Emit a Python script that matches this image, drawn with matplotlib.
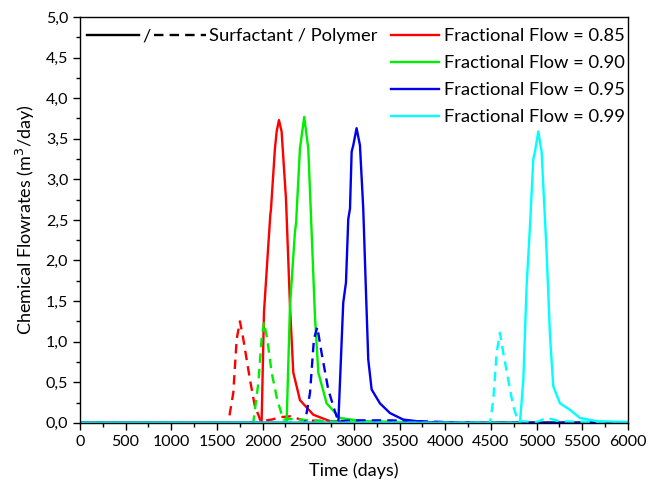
import numpy as np
import matplotlib.pyplot as plt
from matplotlib.ticker import MultipleLocator, FuncFormatter
from matplotlib.lines import Line2D

plt.rcParams['font.family'] = ['Lato', 'DejaVu Sans']

# --- Surfactant (solid) curves ---
t_085 = [0, 1989, 2015, 2062, 2085, 2091, 2135, 2154, 2179, 2208, 2256, 2300, 2336, 2409, 2555, 2738, 3000, 4000, 6000]
s_085 = [0, 0, 1.36, 2.18, 2.57, 2.62, 3.38, 3.59, 3.73, 3.59, 2.76, 1.44, 0.62, 0.28, 0.10, 0.02, 0.01, 0.0, 0]

t_090 = [0, 2263, 2300, 2354, 2368, 2373, 2409, 2456, 2500, 2537, 2573, 2610, 2701, 2847, 3102, 4000, 6000]
s_090 = [0, 0, 1.44, 2.35, 2.48, 2.60, 3.38, 3.77, 3.38, 2.35, 1.32, 0.62, 0.24, 0.06, 0.02, 0.0, 0]

t_095 = [0, 2829, 2865, 2883, 2913, 2938, 2957, 2975, 2993, 3029, 3066, 3102, 3132, 3157, 3194, 3285, 3395, 3540, 3759, 4200, 6000]
s_095 = [0, 0, 0.99, 1.48, 1.73, 2.51, 2.64, 3.34, 3.42, 3.63, 3.42, 2.64, 1.61, 0.78, 0.41, 0.24, 0.12, 0.04, 0.01, 0.0, 0]

t_099 = [0, 4818, 4855, 4891, 4928, 4964, 4982, 5019, 5055, 5110, 5147, 5183, 5256, 5366, 5475, 5658, 6000]
s_099 = [0, 0, 0.53, 1.69, 2.43, 3.25, 3.34, 3.59, 3.34, 2.10, 1.07, 0.45, 0.24, 0.16, 0.06, 0.02, 0.01]

# --- Polymer (dashed) curves ---
tp_085 = [0, 1624, 1679, 1716, 1752, 1789, 1862, 1916, 1953, 1979, 2100, 2200, 2300, 2450, 2800, 3000, 6000]
p_085 = [0, 0, 0.37, 1.03, 1.25, 1.03, 0.53, 0.20, 0.10, 0.02, 0.04, 0.07, 0.08, 0.03, 0.02, 0.0, 0]

tp_090 = [0, 1898, 1953, 1989, 2015, 2051, 2099, 2161, 2227, 2350, 2500, 2700, 3200, 6000]
p_090 = [0, 0, 0.49, 1.03, 1.24, 1.03, 0.62, 0.28, 0.04, 0.05, 0.03, 0.02, 0.0, 0]

tp_095 = [0, 2464, 2519, 2562, 2599, 2646, 2719, 2792, 2829, 3000, 3400, 4000, 4400, 6000]
p_095 = [0, 0, 0.37, 1.03, 1.18, 0.86, 0.41, 0.14, 0.02, 0.03, 0.03, 0.01, 0.0, 0]

tp_099 = [0, 4490, 4526, 4562, 4599, 4636, 4690, 4745, 4800, 5000, 5110, 5250, 5600, 6000]
p_099 = [0, 0, 0.28, 0.86, 1.11, 0.86, 0.53, 0.20, 0.02, 0.01, 0.06, 0.02, 0.01, 0.0]

labels = ['Fractional Flow = 0.85', 'Fractional Flow = 0.90',
          'Fractional Flow = 0.95', 'Fractional Flow = 0.99']
colors = ['#ff0000', '#00ee00', '#0000ee', '#00ffff']

surf = [(t_085, s_085), (t_090, s_090), (t_095, s_095), (t_099, s_099)]
poly = [(tp_085, p_085), (tp_090, p_090), (tp_095, p_095), (tp_099, p_099)]

fig = plt.figure(figsize=(6.5, 4.86), dpi=100)
ax = fig.add_axes([0.123, 0.130, 0.843, 0.835])

dash = (0, (4, 2.6))
for (t, s), (tp, p), c in zip(surf, poly, colors):
    ax.plot(tp, p, color=c, lw=1.7, ls=dash)
    ax.plot(t, s, color=c, lw=1.7)

ax.set_xlim(0, 6000)
ax.set_ylim(0, 5)
ax.xaxis.set_major_locator(MultipleLocator(500))
ax.xaxis.set_minor_locator(MultipleLocator(250))
ax.yaxis.set_major_locator(MultipleLocator(0.5))
ax.yaxis.set_minor_locator(MultipleLocator(0.25))
ax.yaxis.set_major_formatter(FuncFormatter(lambda v, pos: f"{v:.1f}".replace('.', ',')))
ax.tick_params(which='major', direction='out', length=5, width=1, labelsize=11.5)
ax.tick_params(which='minor', direction='out', length=3, width=1)
for sp in ax.spines.values():
    sp.set_linewidth(1.0)

ax.set_xlabel('Time (days)', fontsize=13, labelpad=10)
ax.set_ylabel('Chemical Flowrates (m$^3$/day)', fontsize=13, labelpad=6)

# right legend: colours
handles = [Line2D([], [], color=c, lw=1.7) for c in colors]
leg1 = ax.legend(handles, labels, loc='upper right', frameon=False, fontsize=13.2,
                 handlelength=2.6, handletextpad=0.3, labelspacing=0.6,
                 borderaxespad=0.0, bbox_to_anchor=(1.009, 0.99))
ax.add_artist(leg1)

# left legend: solid / dashed
h2 = [Line2D([], [], color='black', lw=1.7),
      Line2D([], [], color='black', lw=1.7, ls=dash)]
ax.legend(h2, ['/', 'Surfactant / Polymer'], loc='upper left', ncol=2, frameon=False,
          fontsize=13.2, handlelength=2.8, handletextpad=0.2, columnspacing=0.2,
          borderaxespad=0.0, bbox_to_anchor=(0.0, 0.99))

fig.savefig('out.png', dpi=100)
